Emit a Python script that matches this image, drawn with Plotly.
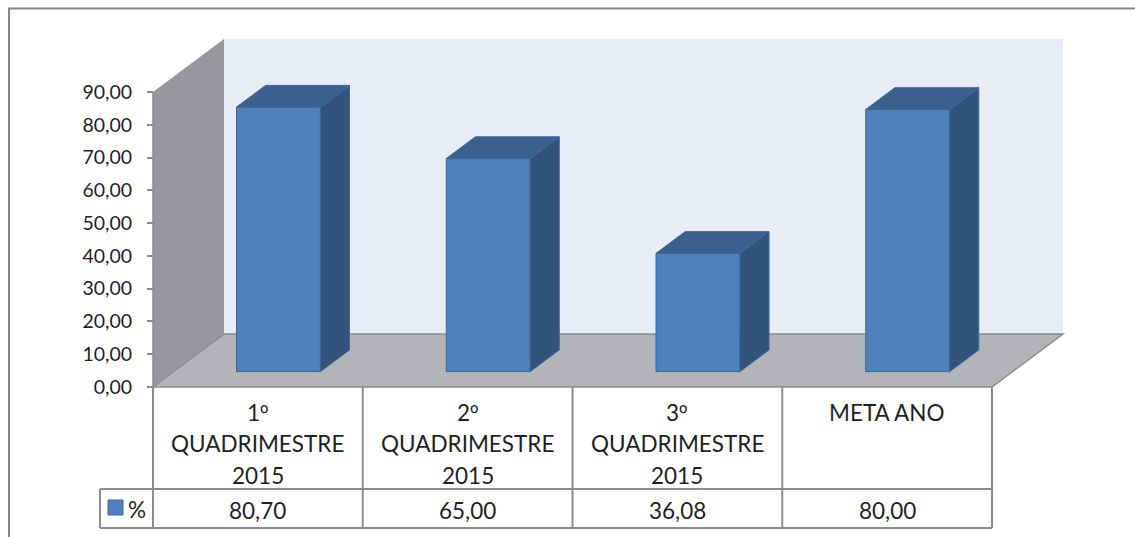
import plotly.graph_objects as go

# ---------------- data ----------------
categories = ["1º<br>QUADRIMESTRE<br>2015", "2º<br>QUADRIMESTRE<br>2015",
              "3º<br>QUADRIMESTRE<br>2015", "META ANO"]
values = [80.70, 65.00, 36.08, 80.00]
value_labels = ["80,70", "65,00", "36,08", "80,00"]
series_name = "%"
tick_values = [0, 10, 20, 30, 40, 50, 60, 70, 80, 90]
tick_labels = ["0,00", "10,00", "20,00", "30,00", "40,00", "50,00",
               "60,00", "70,00", "80,00", "90,00"]

# ---------------- layout geometry (screen pixels) ----------------
W, H = 1135, 537
ML, MR, MT, MB = 90, 60, 30, 5
PX0, PX1 = ML, W - MR
PY0, PY1 = MT, H - MB
X0PX, X4PX = 153, 992          # front plane: x=0 and x=4
Y0PX, Y90PX = 387, 92          # front plane: y=0 and y=90
sx = (X4PX - X0PX) / 4.0
sy = (Y0PX - Y90PX) / 90.0
xr = [(PX0 - X0PX) / sx, (PX1 - X0PX) / sx]
yr = [-(PY1 - Y0PX) / sy, (Y0PX - PY0) / sy]

DX = 71 / sx    # depth offset (x) in data units
DY = 53 / sy    # depth offset (y) in data units
F1, F2 = 0.29, 0.70   # bar depth fractions
BW = 0.40              # bar width in category units
YMAX = tick_values[-1]

def ypx(py):
    return -(py - Y0PX) / sy

def xpx(px):
    return (px - X0PX) / sx

BACK = "#E8ECF6"
SIDE = "#97989C"
FLOOR = "#B2B4B8"
EDGE = "#8C8C8C"
FRONT = "#4F81BD"
TOP = "#3B608D"
RSIDE = "#31537E"
BAREDGE = "#3D6797"
TXT = "#1F1F1F"
FONT = "Lato"
FS_TABLE = 22.5
FS_TICK = 19.5

fig = go.Figure()
n = len(values)

# 3D faces of bars (top + side), computed from values
for i, v in enumerate(values):
    xc = i + 0.5 + F1 * DX
    xl, xrr = xc - BW / 2, xc + BW / 2
    b = F1 * DY
    t = b + v
    ddx, ddy = (F2 - F1) * DX, (F2 - F1) * DY
    fig.add_trace(go.Scatter(
        x=[xrr, xrr, xrr + ddx, xrr + ddx, xrr],
        y=[b, t, t + ddy, b + ddy, b],
        fill="toself", fillcolor=RSIDE, mode="lines",
        line=dict(color=BAREDGE, width=1), hoverinfo="skip", showlegend=False))
    fig.add_trace(go.Scatter(
        x=[xl, xl + ddx, xrr + ddx, xrr, xl],
        y=[t, t + ddy, t + ddy, t, t],
        fill="toself", fillcolor=TOP, mode="lines",
        line=dict(color=BAREDGE, width=1), hoverinfo="skip", showlegend=False))

# front faces
fig.add_trace(go.Bar(
    x=[i + 0.5 + F1 * DX for i in range(n)], y=values, base=F1 * DY,
    width=BW, marker=dict(color=FRONT, line=dict(color=BAREDGE, width=1)),
    name=series_name, showlegend=False))

shapes = []
# back wall
shapes.append(dict(type="rect", xref="x", yref="y", x0=DX, x1=n + DX, y0=DY, y1=YMAX + DY,
                   fillcolor=BACK, line=dict(width=0), layer="below"))
# left side wall
shapes.append(dict(type="path", xref="x", yref="y",
                   path=f"M 0,0 L 0,{YMAX} L {DX},{YMAX + DY} L {DX},{DY} Z",
                   fillcolor=SIDE, line=dict(width=0), layer="below"))
# floor
shapes.append(dict(type="path", xref="x", yref="y",
                   path=f"M 0,0 L {DX},{DY} L {n + DX},{DY} L {n},0 Z",
                   fillcolor=FLOOR, line=dict(color=EDGE, width=1.5), layer="below"))
# axis line
shapes.append(dict(type="line", xref="x", yref="y", x0=0, x1=0, y0=0, y1=YMAX,
                   line=dict(color=EDGE, width=1.5), layer="below"))

# data table
yh = ypx(489)
yb = ypx(528)
xlg = xpx(100)
for k in range(n + 1):
    shapes.append(dict(type="line", xref="x", yref="y", x0=k, x1=k, y0=0, y1=yb,
                       line=dict(color=EDGE, width=2)))
shapes.append(dict(type="line", xref="x", yref="y", x0=xlg, x1=n, y0=yh, y1=yh,
                   line=dict(color=EDGE, width=2)))
shapes.append(dict(type="line", xref="x", yref="y", x0=xlg, x1=n, y0=yb, y1=yb,
                   line=dict(color=EDGE, width=2)))
shapes.append(dict(type="line", xref="x", yref="y", x0=xlg, x1=xlg, y0=yh, y1=yb,
                   line=dict(color=EDGE, width=2)))
# legend key
shapes.append(dict(type="rect", xref="x", yref="y", x0=xpx(108), x1=xpx(123),
                   y0=ypx(515), y1=ypx(500), fillcolor=FRONT,
                   line=dict(color=BAREDGE, width=1)))
# outer chart border
shapes.append(dict(type="rect", xref="paper", yref="paper",
                   x0=(9 - PX0) / (PX1 - PX0), x1=1.3,
                   y0=-0.2, y1=(PY1 - 8.5) / (PY1 - PY0),
                   line=dict(color="#878787", width=2), fillcolor="rgba(0,0,0,0)"))

def fix_ordinal(s):
    return s.replace("º", "<span style='font-family:Noto Sans'>º</span>")

annotations = []
LINE = 31.5
for i, lab in enumerate(categories):
    for j, part in enumerate(lab.split("<br>")):
        annotations.append(dict(x=i + 0.5, y=ypx(412 + j * LINE), xref="x", yref="y",
                                text=fix_ordinal(part), showarrow=False, xanchor="center",
                                yanchor="middle",
                                font=dict(family=FONT, size=FS_TABLE, color=TXT)))
    annotations.append(dict(x=i + 0.5, y=ypx(510), xref="x", yref="y",
                            text=value_labels[i], showarrow=False, xanchor="center",
                            yanchor="middle", font=dict(family=FONT, size=FS_TABLE, color=TXT)))
annotations.append(dict(x=xpx(126), y=ypx(509), xref="x", yref="y", text=series_name,
                        showarrow=False, xanchor="left", yanchor="middle",
                        font=dict(family=FONT, size=FS_TABLE, color=TXT)))

fig.update_layout(
    width=W, height=H,
    margin=dict(l=ML, r=MR, t=MT, b=MB, pad=0),
    paper_bgcolor="white", plot_bgcolor="white",
    showlegend=False, barmode="overlay",
    shapes=shapes, annotations=annotations,
    xaxis=dict(range=xr, visible=False, showgrid=False, zeroline=False, fixedrange=True),
    yaxis=dict(range=yr, anchor="free", position=(X0PX - PX0) / (PX1 - PX0),
               tickvals=tick_values, ticktext=tick_labels, ticks="outside", ticklen=6,
               tickcolor=EDGE, tickwidth=1.5, showgrid=False, zeroline=False, showline=False,
               ticklabelstandoff=11,
               tickfont=dict(family=FONT, size=FS_TICK, color=TXT), fixedrange=True),
)

fig.write_html("out.html", config={"displayModeBar": False},
               post_script="document.body.style.margin='0';document.body.style.overflow='hidden';")
